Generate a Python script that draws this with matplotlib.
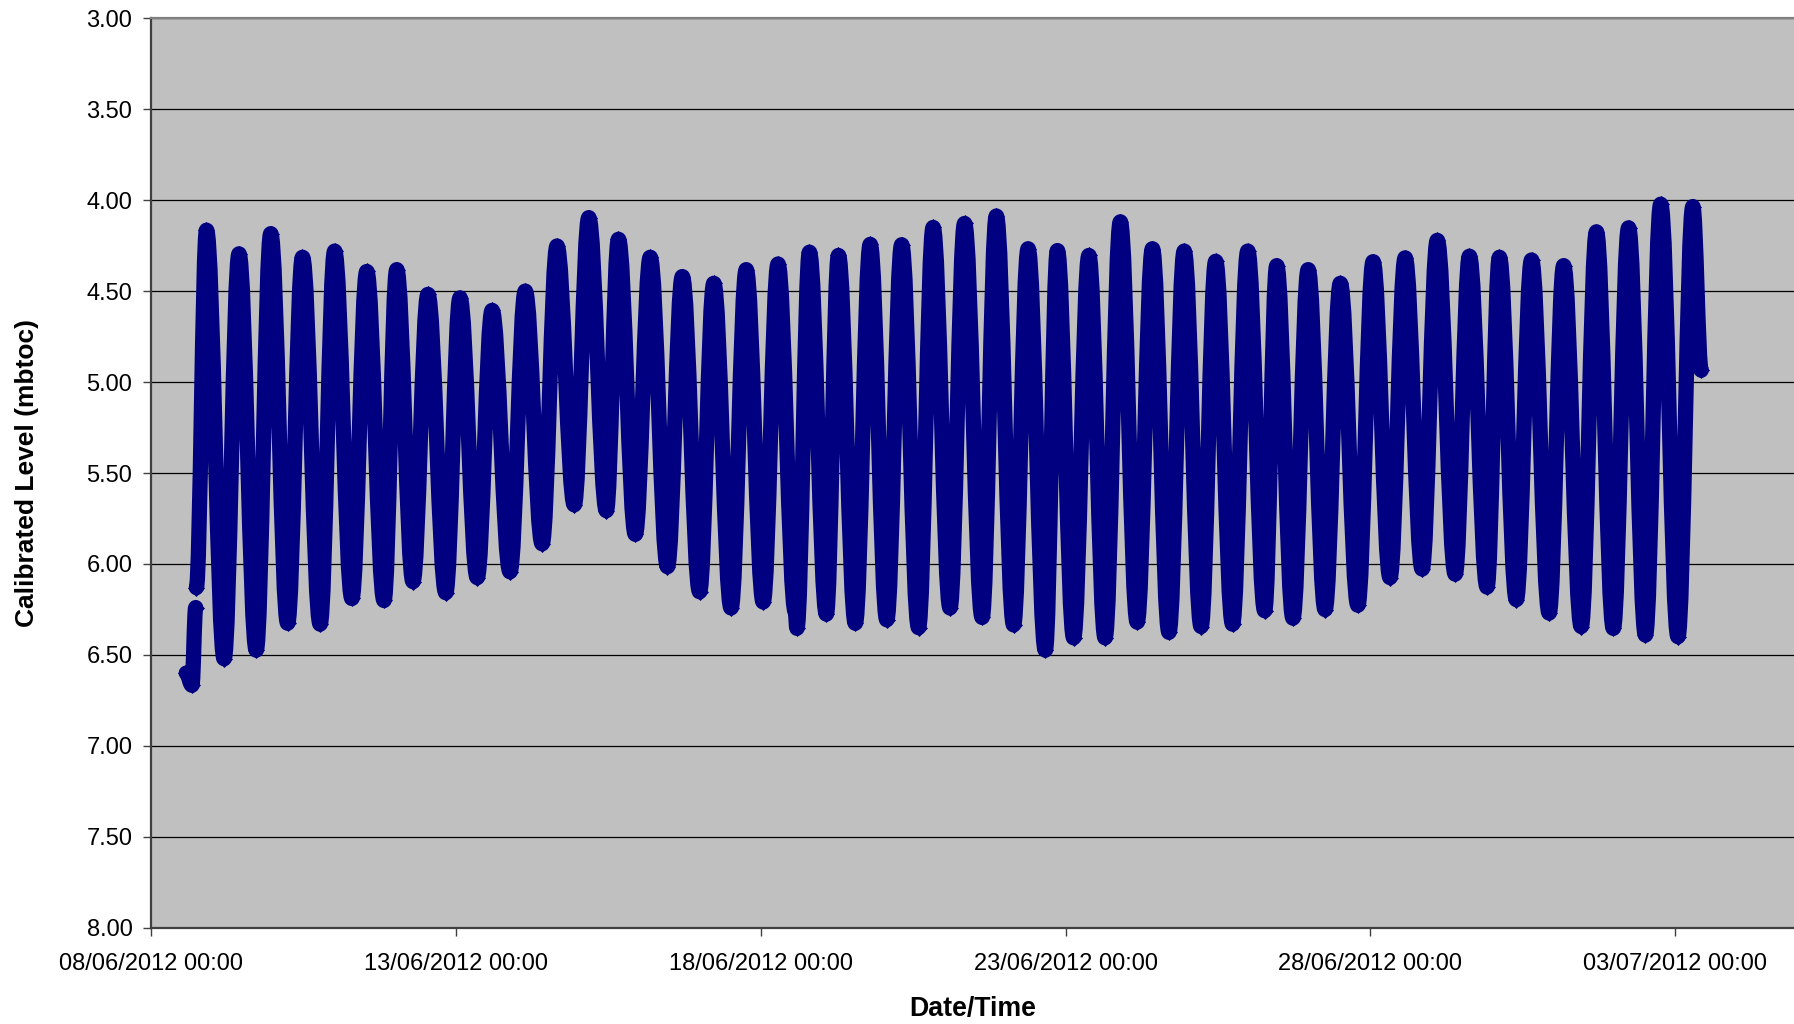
import numpy as np
import pandas as pd
import matplotlib
matplotlib.use("Agg")
import matplotlib.pyplot as plt
import matplotlib.dates as mdates
from matplotlib.path import Path
from matplotlib.patches import PathPatch
from matplotlib.ticker import FixedLocator, FormatStrFormatter

plt.rcParams["font.family"] = ["Liberation Sans", "DejaVu Sans"]

# Logger record: turning points of the water level (days after 08/06/2012 00:00)
# NaN marks the short break in the record at the start of the deployment.
start_time = "2012-06-08 00:00"
elapsed_days = [
    0.575, 0.669, 0.730, 0.735,
    0.741, 0.907, 1.196, 1.440, 1.723, 1.961, 2.238, 2.482, 2.771, 3.009,
    3.292, 3.536, 3.819, 4.028, 4.294, 4.539, 4.832, 5.065, 5.348, 5.592,
    5.886, 6.136, 6.413, 6.657, 6.940, 7.178, 7.467, 7.665, 7.942, 8.186,
    8.469, 8.713, 8.996, 9.229, 9.512, 9.761, 10.039, 10.283, 10.565, 10.593,
    10.798, 11.076, 11.274, 11.551, 11.795, 12.067, 12.311, 12.588, 12.827,
    13.104, 13.343, 13.631, 13.864, 14.147, 14.385, 14.668, 14.866, 15.132,
    15.382, 15.648, 15.898, 16.175, 16.425, 16.696, 16.946, 17.223, 17.462,
    17.739, 17.989, 18.266, 18.464, 18.730, 18.980, 19.257, 19.507, 19.795,
    20.045, 20.322, 20.571, 20.849, 21.098, 21.392, 21.625, 21.914, 22.117,
    22.395, 22.644, 22.933, 23.171, 23.459, 23.709, 23.986, 24.236, 24.513,
    24.763, 25.046, 25.290, 25.428,
]
level_mbtoc = [
    6.60, 6.667, 6.24, np.nan,
    6.13, 4.165, 6.521, 4.295, 6.474, 4.184, 6.326, 4.314, 6.331, 4.280,
    6.190, 4.392, 6.201, 4.382, 6.097, 4.518, 6.158, 4.537, 6.075, 4.606,
    6.043, 4.500, 5.889, 4.252, 5.675, 4.096, 5.707, 4.215, 5.837, 4.314,
    6.015, 4.420, 6.153, 4.457, 6.242, 4.382, 6.209, 4.351, 6.261, 6.354,
    4.286, 6.276, 4.304, 6.326, 4.243, 6.307, 4.245, 6.350, 4.150,
    6.242, 4.128, 6.294, 4.087, 6.335, 4.267, 6.474, 4.277, 6.406,
    4.304, 6.406, 4.119, 6.320, 4.267, 6.376, 4.280, 6.344, 4.336,
    6.331, 4.280, 6.257, 4.360, 6.298, 4.382, 6.251, 4.457, 6.227,
    4.338, 6.075, 4.317, 6.028, 4.221, 6.056, 4.308, 6.127, 4.314,
    6.196, 4.329, 6.270, 4.360, 6.344, 4.174, 6.354, 4.152, 6.391,
    4.022, 6.400, 4.035, 4.935,
]

x_tick_dates = ["2012-06-08", "2012-06-13", "2012-06-18", "2012-06-23",
                "2012-06-28", "2012-07-03"]
y_ticks = [3.0, 3.5, 4.0, 4.5, 5.0, 5.5, 6.0, 6.5, 7.0, 7.5, 8.0]
x_span_days = 26.95

t0 = pd.Timestamp(start_time)
times = t0 + pd.to_timedelta(elapsed_days, unit="D")

fig = plt.figure(figsize=(17.94, 10.24), dpi=100)
ax = fig.add_axes([151.2 / 1794, 1 - 927.7 / 1024,
                   (1794 - 151.2) / 1794, (927.7 - 18.3) / 1024])
ax.set_facecolor("#C0C0C0")

navy = "#000080"

# Turning-point markers (also sets up the date axis)
ax.plot(times, level_mbtoc, ls="none", marker="D", ms=8.6,
        mfc=navy, mec=navy, mew=0.5, zorder=4)


def smooth_tide_path(xs, ys, k=0.364):
    """Smoothed line through turning points: cubic Bezier segments with
    flat tangents at each turning point (like a smoothed chart line)."""
    verts, codes = [], []
    pen_down = False
    for x, y in zip(xs, ys):
        if np.isnan(y):
            pen_down = False
            continue
        if not pen_down:
            verts.append((x, y))
            codes.append(Path.MOVETO)
            pen_down = True
        else:
            xp, yp = verts[-1]
            dx = x - xp
            verts += [(xp + k * dx, yp), (x - k * dx, y), (x, y)]
            codes += [Path.CURVE4] * 3
    return Path(verts, codes)


xnum = mdates.date2num(times.to_pydatetime())
tide = PathPatch(smooth_tide_path(xnum, np.asarray(level_mbtoc, float)),
                 facecolor="none", edgecolor=navy, lw=11.0,
                 joinstyle="round", capstyle="round",
                 transform=ax.transData, zorder=3)
ax.add_patch(tide)

ax.set_ylim(8.0, 3.0)
ax.yaxis.set_major_locator(FixedLocator(y_ticks))
ax.yaxis.set_major_formatter(FormatStrFormatter("%.2f"))
ax.grid(axis="y", color="black", lw=0.9)
ax.set_axisbelow(True)

ax.set_xlim(t0, t0 + pd.Timedelta(days=x_span_days))
ax.set_xticks(pd.to_datetime(x_tick_dates))
ax.xaxis.set_major_formatter(mdates.DateFormatter("%d/%m/%Y %H:%M"))

for side in ("left", "bottom"):
    ax.spines[side].set_color("#404040")
    ax.spines[side].set_linewidth(1.6)
ax.spines["top"].set_color("#808080")
ax.spines["top"].set_linewidth(1.6)
ax.spines["right"].set_visible(False)

ax.tick_params(axis="both", direction="out", length=5.5, width=1,
               color="#404040", labelsize=17, labelcolor="black")
ax.tick_params(axis="y", pad=8)
ax.tick_params(axis="x", pad=13)

ax.set_ylabel("Calibrated Level (mbtoc)", fontsize=19, fontweight="bold")
ax.yaxis.set_label_coords(-0.0683, 0.5)
ax.set_xlabel("Date/Time", fontsize=19.3, fontweight="bold")
ax.xaxis.set_label_coords(0.5, -0.075)

fig.savefig("out.png", dpi=100, facecolor="white")
